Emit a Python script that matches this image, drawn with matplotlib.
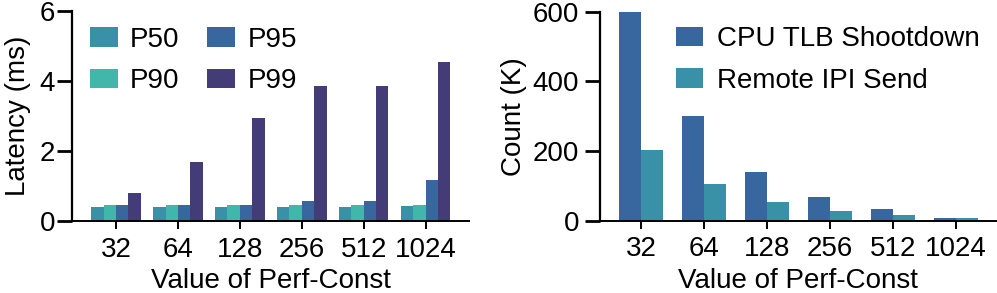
import numpy as np
import matplotlib
matplotlib.use("Agg")
import matplotlib.pyplot as plt

plt.rcParams['font.family'] = ['Liberation Sans', 'DejaVu Sans']
plt.rcParams['font.size'] = 20

# data
perf_const = ['32', '64', '128', '256', '512', '1024']
p50 = [0.42, 0.42, 0.42, 0.42, 0.42, 0.43]
p90 = [0.46, 0.46, 0.46, 0.46, 0.46, 0.46]
p95 = [0.46, 0.46, 0.46, 0.58, 0.58, 1.18]
p99 = [0.80, 1.68, 2.96, 3.86, 3.86, 4.55]

tlb_shootdown = [600, 301, 140, 68, 34, 10]
ipi_send = [205, 106, 55, 30, 16, 8]

c_p50 = '#3891A6'
c_p90 = '#41B6AB'
c_p95 = '#38669E'
c_p99 = '#433C77'

fig = plt.figure(figsize=(9.97, 2.93), dpi=100)
ax1 = fig.add_axes([0.0722, 0.2447, 0.3982, 0.7178])
ax2 = fig.add_axes([0.6018, 0.2457, 0.3972, 0.7143])

x = np.arange(len(perf_const))

# left: latency percentiles
w = 0.2
series = [(p50, 'P50', c_p50), (p90, 'P90', c_p90),
          (p95, 'P95', c_p95), (p99, 'P99', c_p99)]
for k, (vals, lab, col) in enumerate(series):
    ax1.bar(x + (k - 1.5) * w, vals, w, color=col, label=lab)
ax1.set_xlim(-0.71, 5.70)
ax1.set_ylim(0, 6)
ax1.set_yticks([0, 2, 4, 6])
ax1.set_xticks(x)
ax1.set_xticklabels(perf_const)
ax1.set_ylabel('Latency (ms)', labelpad=6)
ax1.set_xlabel('Value of Perf-Const', labelpad=4)
ax1.legend(ncol=2, loc='upper left', bbox_to_anchor=(0.045, 0.925),
           frameon=False, borderpad=0, borderaxespad=0,
           handlelength=1.0, handleheight=0.7, handletextpad=0.45,
           columnspacing=1.0, labelspacing=0.55)

# right: TLB shootdown / IPI counts
w2 = 0.35
ax2.bar(x - w2 / 2, tlb_shootdown, w2, color=c_p95, label='CPU TLB Shootdown')
ax2.bar(x + w2 / 2, ipi_send, w2, color=c_p50, label='Remote IPI Send')
ax2.set_xlim(-0.65, 5.64)
ax2.set_ylim(0, 600)
ax2.set_yticks([0, 200, 400, 600])
ax2.set_xticks(x)
ax2.set_xticklabels(perf_const)
ax2.set_ylabel('Count (K)', labelpad=4)
ax2.set_xlabel('Value of Perf-Const', labelpad=4)
ax2.legend(loc='upper left', bbox_to_anchor=(0.191, 0.93),
           frameon=False, borderpad=0, borderaxespad=0,
           handlelength=1.0, handleheight=0.7, handletextpad=0.5,
           labelspacing=0.55)

for ax, ypad in ((ax1, 1), (ax2, 4)):
    ax.spines['top'].set_visible(False)
    ax.spines['right'].set_visible(False)
    ax.spines['left'].set_linewidth(1.6)
    ax.spines['bottom'].set_linewidth(1.4)
    ax.tick_params(axis='y', length=11, width=2, pad=ypad)
    ax.tick_params(axis='x', length=6, width=1.4, pad=5)

fig.savefig('out.png', dpi=100)
